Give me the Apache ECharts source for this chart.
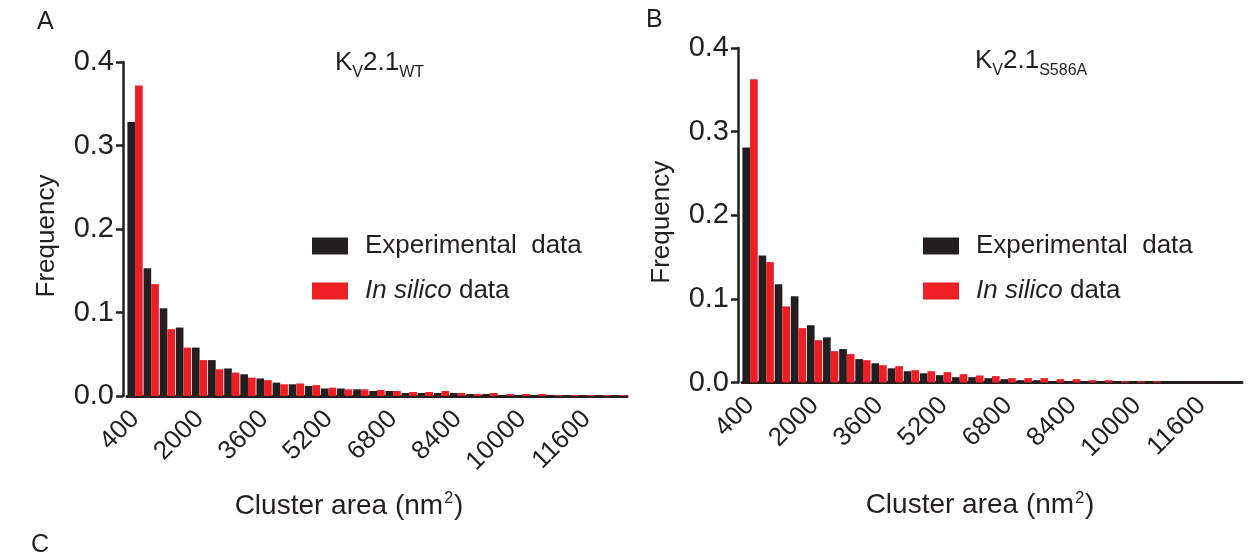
<!DOCTYPE html>
<html>
<head>
<meta charset="utf-8">
<script src="https://cdn.jsdelivr.net/npm/echarts@6/dist/echarts.min.js"></script>
<style>
  html, body { margin: 0; padding: 0; background: #fff; }
  #chart { width: 1248px; height: 556px; }
</style>
</head>
<body>
<div id="chart"></div>
<script>
// cluster area bins (nm^2), 400 step
var areas = [400, 800, 1200, 1600, 2000, 2400, 2800, 3200, 3600, 4000, 4400, 4800, 5200, 5600, 6000, 6400,
  6800, 7200, 7600, 8000, 8400, 8800, 9200, 9600, 10000, 10400, 10800, 11200, 11600, 12000, 12400]

// panel A: Kv2.1 WT
var wtExperimental = [0.328, 0.153, 0.105, 0.082, 0.058, 0.043, 0.033, 0.026, 0.021, 0.016, 0.014, 0.012, 0.009, 0.009, 0.008, 0.006,
  0.006, 0.0036, 0.0036, 0.0036, 0.0036, 0.0024, 0.0024, 0.0012, 0.0012, 0.0012, 0.0008, 0.0008, 0.0008, 0.0005, 0.0005]
var wtInSilico = [0.372, 0.134, 0.080, 0.058, 0.043, 0.032, 0.028, 0.022, 0.019, 0.014, 0.015, 0.013, 0.010, 0.008, 0.008, 0.0072,
  0.006, 0.0048, 0.0048, 0.006, 0.0036, 0.0024, 0.0036, 0.0024, 0.0024, 0.0024, 0.0012, 0.0012, 0.0012, 0.0012, 0.0012]

// panel B: Kv2.1 S586A
var mutExperimental = [0.281, 0.152, 0.1175, 0.103, 0.0685, 0.054, 0.040, 0.028, 0.023, 0.017, 0.0135, 0.011, 0.0088, 0.0064, 0.0064, 0.0052,
  0.004, 0.0028, 0.0028, 0.0016, 0.0016, 0.0012, 0.0008, 0.0008, 0.0008, 0.0005, 0, 0, 0, 0, 0]
var mutInSilico = [0.3625, 0.144, 0.091, 0.065, 0.0506, 0.0375, 0.034, 0.0267, 0.0207, 0.0195, 0.0147, 0.0135, 0.0124, 0.010, 0.0084, 0.0076,
  0.0052, 0.0052, 0.0052, 0.004, 0.004, 0.0028, 0.0028, 0.0016, 0.0016, 0.0016, 0, 0, 0, 0, 0]

var seriesNames = ['Experimental  data', 'In silico data']
var yTicks = [0, 0.1, 0.2, 0.3, 0.4]

var FONT = '"Liberation Sans", Arial, Helvetica, sans-serif'
var INK = '#231f20'
var BLACK = '#231f20'
var RED = '#ed1f24'

var chart = echarts.init(document.getElementById('chart'))

function xAxisFor(gridIndex, gap, shift) {
  return {
    type: 'category',
    gridIndex: gridIndex,
    data: areas,
    axisLine: { lineStyle: { color: INK, width: 3 } },
    axisTick: { alignWithLabel: true, interval: 3, length: 12, lineStyle: { color: INK, width: 3 } },
    axisLabel: { interval: 3, rotate: 45, margin: 19, fontSize: 26, color: INK, fontFamily: FONT },
    name: '{a|Cluster area (nm}{s|2}{a|)}',
    nameLocation: 'middle',
    nameGap: gap,
    nameTextStyle: {
      padding: [0, shift * 2, 0, 0],
      rich: {
        a: { fontSize: 28, color: INK, fontFamily: FONT, lineHeight: 30 },
        s: { fontSize: 16, color: INK, fontFamily: FONT, lineHeight: 30, padding: [0, 1, 14, 1] }
      }
    }
  }
}

function yAxisFor(gridIndex) {
  return {
    type: 'value',
    gridIndex: gridIndex,
    min: 0,
    max: yTicks[yTicks.length - 1],
    interval: 0.1,
    offset: 4,
    splitLine: { show: false },
    axisLine: { show: true, lineStyle: { color: INK, width: 2.5 } },
    axisTick: { show: true, length: 7, lineStyle: { color: INK, width: 2.5 } },
    axisLabel: {
      margin: 9, fontSize: 29, color: INK, fontFamily: FONT,
      formatter: function (v) { return v.toFixed(1) }
    },
    name: 'Frequency',
    nameLocation: 'middle',
    nameGap: 63,
    nameTextStyle: { fontSize: 26, color: INK, fontFamily: FONT, padding: [0, 14, 0, 0] }
  }
}

function barSeries(name, color, data, idx) {
  return {
    name: name,
    type: 'bar',
    xAxisIndex: idx,
    yAxisIndex: idx,
    data: data,
    barGap: '0%',
    barCategoryGap: '5%',
    itemStyle: { color: color },
    animation: false
  }
}

function legendAt(left) {
  return {
    left: left,
    top: 228,
    orient: 'vertical',
    itemWidth: 36,
    itemHeight: 17,
    itemGap: 19,
    icon: 'rect',
    data: seriesNames,
    formatter: function (name) {
      if (name === 'In silico data') return '{i|In silico}{n| data}'
      return '{n|' + name + '}'
    },
    textStyle: {
      padding: [0, 0, 0, 12],
      rich: {
        n: { fontSize: 26, color: INK, fontFamily: FONT },
        i: { fontSize: 26, color: INK, fontFamily: FONT, fontStyle: 'italic' }
      }
    }
  }
}

var titleRich = {
  k: { fontSize: 26, fontWeight: 'normal', color: INK, fontFamily: FONT, lineHeight: 27, verticalAlign: 'top' },
  s: { fontSize: 16, fontWeight: 'normal', color: INK, fontFamily: FONT, lineHeight: 16, verticalAlign: 'top', padding: [15, 0, 0, 0] }
}
var letterStyle = { fontSize: 25, fontWeight: 'normal', color: INK, fontFamily: FONT }

chart.setOption({
  backgroundColor: '#fff',
  textStyle: { fontFamily: FONT },
  title: [
    { text: 'A', left: 37, top: 10, padding: 0, textStyle: letterStyle },
    { text: 'B', left: 646, top: 8, padding: 0, textStyle: letterStyle },
    { text: 'C', left: 31, top: 533, padding: 0, textStyle: letterStyle },
    { text: '{k|K}{s|V}{k|2.1}{s|WT}', left: 335, top: 50, padding: 0, textStyle: { rich: titleRich } },
    { text: '{k|K}{s|V}{k|2.1}{s|S586A}', left: 975, top: 48, padding: 0, textStyle: { rich: titleRich } }
  ],
  legend: [legendAt(307), legendAt(918)],
  grid: [
    { left: 127, top: 62, width: 500, height: 334 },
    { left: 742, top: 48, width: 500, height: 334.5 }
  ],
  xAxis: [xAxisFor(0, 95, 28), xAxisFor(1, 108, 12)],
  yAxis: [yAxisFor(0), yAxisFor(1)],
  series: [
    barSeries(seriesNames[0], BLACK, wtExperimental, 0),
    barSeries(seriesNames[1], RED, wtInSilico, 0),
    barSeries(seriesNames[0], BLACK, mutExperimental, 1),
    barSeries(seriesNames[1], RED, mutInSilico, 1)
  ]
})
</script>
</body>
</html>
